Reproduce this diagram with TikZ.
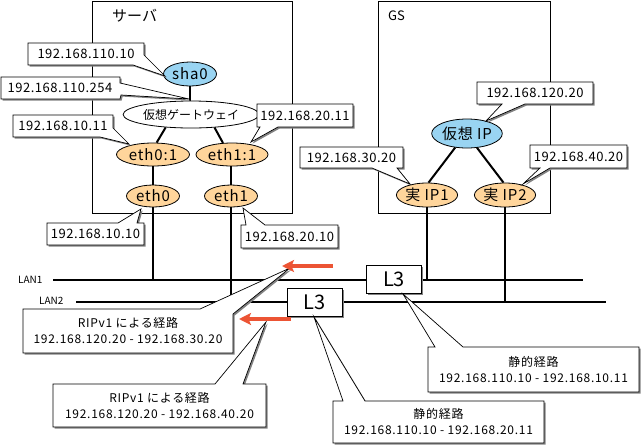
\documentclass[tikz,border=0pt]{standalone}
\usepackage{fontspec}
\setmainfont{Noto Sans CJK JP}
\newfontfamily\ipfont[LetterSpace=4]{Noto Sans CJK JP}
\newfontfamily\routefont[LetterSpace=6]{Noto Sans CJK JP}
\newfontfamily\ellfont[LetterSpace=6]{Noto Sans CJK JP}
\usetikzlibrary{shapes.geometric,arrows.meta,shadows}
\definecolor{bluefill}{RGB}{153,212,242}
\definecolor{orangefill}{RGB}{255,213,155}
\definecolor{arrowred}{RGB}{236,84,52}
\definecolor{shadowgray}{RGB}{130,130,130}
\newcommand\calloutshape[1]{%
  \fill[coshadow,shift={(1.6,1.6)}] #1;
  \draw[co] #1;}
\begin{document}
\begin{tikzpicture}[x=1pt,y=-1pt,
  frame/.style={draw, line width=0.8pt},
  nodeell/.style={ellipse, draw, line width=0.8pt, inner sep=0pt, font=\ellfont\fontsize{15}{15}\selectfont},
  blueell/.style={nodeell, fill=bluefill},
  orangeell/.style={nodeell, fill=orangefill},
  link/.style={line width=2pt},
  lan/.style={line width=2pt},
  co/.style={draw, fill=white, line width=0.7pt, line join=miter},
  coshadow/.style={fill=shadowgray},
  iptext/.style={font=\ipfont\fontsize{13}{13}\selectfont, inner sep=0pt},
  routetext/.style={font=\routefont\fontsize{12}{16}\selectfont, inner sep=0pt, align=center},
  redarrow/.style={draw=arrowred, line width=3.6pt, -{Stealth[length=12pt,width=12pt,inset=2.5pt]}},
  l3box/.style={draw, fill=white, line width=0.8pt, minimum width=55pt, minimum height=28pt, inner sep=0pt, font=\fontsize{20}{20}\selectfont,
    general shadow={fill=shadowgray, shadow xshift=1.6pt, shadow yshift=-1.6pt}},
  lanlabel/.style={font=\fontsize{10}{10}\selectfont, inner sep=0pt}
]
\useasboundingbox (0,0) rectangle (642,445);

% frames
\draw[frame] (92,1) rectangle (292,213);
\node[font=\fontsize{15}{15}\selectfont, anchor=west, inner sep=0pt] (srvlabel) at (112,16) {サーバ};
\draw[frame] (378,1) rectangle (550,213);
\node[font=\fontsize{13}{13}\selectfont, anchor=west, inner sep=0pt] (gslabel) at (388,16) {GS};

% LAN coordinates
\coordinate (lan1w) at (53,280);
\coordinate (lan1e) at (583,280);
\coordinate (lan2w) at (76,302);
\coordinate (lan2e) at (606,302);

% nodes
\node[blueell, minimum width=53pt, minimum height=24pt] (sha0) at (190,74) {sha0};
\node[nodeell, fill=white, minimum width=108pt, minimum height=27pt, font=\fontsize{12}{12}\selectfont] (gw) at (191,114.5) {仮想ゲートウェイ};
\node[orangeell, minimum width=73pt, minimum height=23pt] (eth01) at (153,154.5) {eth0:1};
\node[orangeell, minimum width=72pt, minimum height=23pt] (eth11) at (232,154.5) {eth1:1};
\node[orangeell, minimum width=53pt, minimum height=22pt] (eth0) at (153,196) {eth0};
\node[orangeell, minimum width=53pt, minimum height=22pt] (eth1) at (231,196) {eth1};
\node[blueell, minimum width=62pt, minimum height=29pt] (vip) at (467,133.5) {仮想 IP};
\node[orangeell, minimum width=53pt, minimum height=24pt] (rip1) at (427,195) {実 IP1};
\node[orangeell, minimum width=53pt, minimum height=24pt] (rip2) at (505,195) {実 IP2};

% links
\draw[link] (sha0.south) -- (sha0.south |- gw.north);
\draw[link] (gw.207) -- (eth01.73);
\draw[link] (gw.331) -- (eth11.128);
\draw[link] (eth01.south |- eth0.north) -- (eth01.south);
\draw[link] (eth1.north) -- (eth1.north |- eth11.south);
\draw[link] (vip.230) -- (rip1.83);
\draw[link] (vip.305) -- (rip2.97);
\draw[link] (eth0.south) -- (eth0.south |- lan1w);
\draw[link] (eth1.south) -- (eth1.south |- lan2w);
\draw[link] (rip1.south) -- (rip1.south |- lan1w);
\draw[link] (rip2.south) -- (rip2.south |- lan2w);

% LANs
\draw[lan] (lan1w) -- (lan1e);
\draw[lan] (lan2w) -- (lan2e);
\node[lanlabel, anchor=west] (lan1label) at (18,280) {LAN1};
\node[lanlabel, anchor=west] (lan2label) at (39,301) {LAN2};

% L3 switches
\node[l3box] (l3a) at (394,279) {L3};
\node[l3box] (l3b) at (314.5,302) {L3};

% callouts
\calloutshape{(28,43) -- (144,43) -- (144,55) -- (165,76) -- (133,65) -- (28,65) -- cycle}
\node[iptext] (c1) at (86,54) {192.168.110.10};
\calloutshape{(1,77) -- (120,77) -- (120,83) -- (189,99) -- (121,95) -- (120,99) -- (1,99) -- cycle}
\node[iptext] (c2) at (60,88) {192.168.110.254};
\calloutshape{(13,115) -- (113,115) -- (113,128) -- (129,144) -- (100,137) -- (13,137) -- cycle}
\node[iptext] (c3) at (63,126) {192.168.10.11};
\calloutshape{(257,104) -- (353,104) -- (353,127) -- (278,127) -- (251,142) -- (260,127) -- (257,127) -- cycle}
\node[iptext] (c4) at (305,115.5) {192.168.20.11};
\calloutshape{(47,223) -- (118,223) -- (141,209) -- (137,223) -- (144,223) -- (144,245) -- (47,245) -- cycle}
\node[iptext] (c5) at (95.5,234) {192.168.10.10};
\calloutshape{(241,225) -- (246,225) -- (243,208) -- (265,225) -- (338,225) -- (338,248) -- (241,248) -- cycle}
\node[iptext] (c6) at (289.5,236.5) {192.168.20.10};
\calloutshape{(477,82) -- (593,82) -- (593,104) -- (525,104) -- (486,121) -- (502,104) -- (477,104) -- cycle}
\node[iptext] (c7) at (535,93) {192.168.120.20};
\calloutshape{(300,147) -- (403,147) -- (403,168) -- (397,168) -- (410,184) -- (372,168) -- (300,168) -- cycle}
\node[iptext] (c8) at (351.5,157.5) {192.168.30.20};
\calloutshape{(530,145) -- (627,145) -- (627,168) -- (550,168) -- (523,184) -- (540,168) -- (530,168) -- cycle}
\node[iptext] (c9) at (578.5,156.5) {192.168.40.20};
\calloutshape{(23,309) -- (200,309) -- (290,268) -- (233,314) -- (233,353) -- (23,353) -- cycle}
\node[routetext] (c10) at (128,331) {RIPv1 による経路\\192.168.120.20 - 192.168.30.20};
\calloutshape{(53,384) -- (215,384) -- (266,322) -- (243,384) -- (266,384) -- (266,427) -- (53,427) -- cycle}
\node[routetext] (c11) at (159.5,405.5) {RIPv1 による経路\\192.168.120.20 - 192.168.40.20};
\calloutshape{(428,347) -- (435,347) -- (403,294) -- (463,347) -- (639,347) -- (639,392) -- (428,392) -- cycle}
\node[routetext] (c12) at (533.5,370) {静的経路\\192.168.110.10 - 192.168.10.11};
\calloutshape{(333,401) -- (343,401) -- (314,317) -- (365,401) -- (544,401) -- (544,443) -- (333,443) -- cycle}
\node[routetext] (c13) at (438.5,422) {静的経路\\192.168.110.10 - 192.168.20.11};

% red arrows
\coordinate (ra1s) at (333,266);
\coordinate (ra1e) at (282,266);
\coordinate (ra2s) at (291,319);
\coordinate (ra2e) at (239,319);
\draw[redarrow] (ra1s) -- (ra1e);
\draw[redarrow] (ra2s) -- (ra2e);
\end{tikzpicture}
\end{document}
